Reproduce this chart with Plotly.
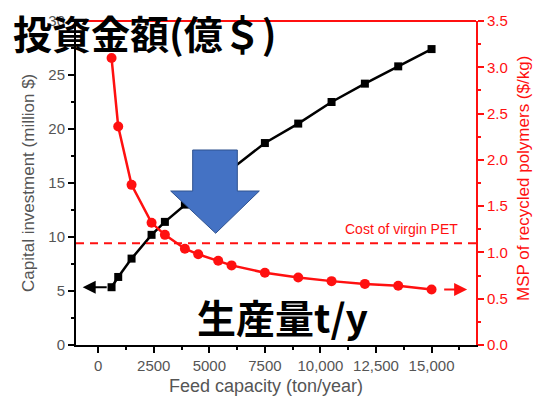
import plotly.graph_objects as go

feed_capacity = [600, 900, 1500, 2400, 3000, 3900, 4500, 5400, 6000, 7500, 9000, 10500, 12000, 13500, 15000]
capital_investment = [5.35, 6.3, 8.0, 10.2, 11.4, 13.0, 14.0, 15.4, 16.3, 18.7, 20.5, 22.5, 24.2, 25.8, 27.4]
msp = [3.10, 2.36, 1.73, 1.32, 1.19, 1.04, 0.98, 0.91, 0.86, 0.78, 0.73, 0.69, 0.66, 0.64, 0.60]
virgin_pet_cost = 1.1

x_tickvals = [0, 2500, 5000, 7500, 10000, 12500, 15000]
x_ticktext = ["0", "2500", "5000", "7500", "10,000", "12,500", "15,000"]
y_tickvals = [0, 5, 10, 15, 20, 25, 30]
y2_tickvals = [0.0, 0.5, 1.0, 1.5, 2.0, 2.5, 3.0, 3.5]
y2_ticktext = ["0.0", "0.5", "1.0", "1.5", "2.0", "2.5", "3.0", "3.5"]

GRAY = "#555555"
RED = "#ff1010"
FONT = "Liberation Sans, Arial, sans-serif"
CJK = "Noto Sans CJK JP"

# plot area in pixels
L, R, T, B = 76, 476, 21, 345
W, H = 535, 396

fig = go.Figure()
fig.add_trace(go.Scatter(
    x=feed_capacity, y=capital_investment, mode="lines+markers",
    line=dict(color="black", width=2.5),
    marker=dict(symbol="square", size=8, color="black"),
    yaxis="y", showlegend=False, hoverinfo="skip"))
fig.add_trace(go.Scatter(
    x=feed_capacity, y=msp, mode="lines+markers",
    line=dict(color=RED, width=2.5),
    marker=dict(symbol="circle", size=10, color=RED),
    yaxis="y2", showlegend=False, hoverinfo="skip"))

fig.update_layout(
    width=W, height=H,
    margin=dict(l=L, r=W - R, t=T, b=H - B),
    paper_bgcolor="white", plot_bgcolor="white",
    font=dict(family=FONT, color=GRAY),
    xaxis=dict(
        range=[-1000, 17000], tickvals=x_tickvals, ticktext=x_ticktext, automargin=False,
        showgrid=False, zeroline=False, showline=True, linecolor="black", linewidth=2,
        ticks="outside", ticklen=6, tickwidth=1.5, tickcolor="black",
        tickfont=dict(size=15, color=GRAY, family=FONT),
        minor=dict(ticks="outside", ticklen=3, dtick=1250, tick0=0, tickcolor="black", tickwidth=1.5),
    ),
    yaxis=dict(
        range=[0, 30], tickvals=y_tickvals, automargin=False,
        showgrid=False, zeroline=False, showline=True, linecolor="black", linewidth=2,
        ticks="outside", ticklen=6, tickwidth=1.5, tickcolor="black",
        tickfont=dict(size=15, color=GRAY, family=FONT),
        minor=dict(ticks="outside", ticklen=3, dtick=2.5, tick0=0, tickcolor="black", tickwidth=1.5),
    ),
    yaxis2=dict(
        range=[0, 3.5], tickvals=y2_tickvals, ticktext=y2_ticktext, automargin=False,
        overlaying="y", side="right",
        showgrid=False, zeroline=False, showline=True, linecolor=RED, linewidth=2,
        ticks="outside", ticklen=6, tickwidth=1.5, tickcolor=RED,
        tickfont=dict(size=15, color=RED, family=FONT),
        minor=dict(ticks="outside", ticklen=3, dtick=0.25, tick0=0, tickcolor=RED, tickwidth=1.5),
    ),
)

px = lambda X: (X - L) / (R - L)
py = lambda Y: (B - Y) / (B - T)

# axis titles
fig.add_annotation(text="Feed capacity (ton/year)", xref="paper", yref="paper",
                   x=px(266), y=py(386), xanchor="center", yanchor="middle", showarrow=False,
                   font=dict(size=18, color=GRAY, family=FONT))
fig.add_annotation(text="Capital investment (million $)", xref="paper", yref="paper",
                   x=px(28), y=py(183), xanchor="center", yanchor="middle", showarrow=False,
                   textangle=-90, font=dict(size=17, color=GRAY, family=FONT))
fig.add_annotation(text="MSP of recycled polymers ($/kg)", xref="paper", yref="paper",
                   x=px(524), y=py(179), xanchor="center", yanchor="middle", showarrow=False,
                   textangle=-90, font=dict(size=17, color=RED, family=FONT))

# top frame line (red)
fig.add_shape(type="line", xref="paper", yref="paper", x0=0, x1=1, y0=1, y1=1,
              line=dict(color=RED, width=2))
# virgin PET reference line
fig.add_shape(type="line", xref="paper", yref="y2", x0=0, x1=1, y0=virgin_pet_cost, y1=virgin_pet_cost,
              line=dict(color=RED, width=2, dash="8px,6px"))
fig.add_annotation(text="Cost of virgin PET", xref="paper", yref="paper", x=px(460), y=py(229),
                   xanchor="right", yanchor="middle", showarrow=False,
                   font=dict(size=14, color=RED, family=FONT))

# axis-direction arrows
fig.add_annotation(x=-700, y=capital_investment[0], ax=450, ay=capital_investment[0],
                   xref="x", yref="y", axref="x", ayref="y", text="", showarrow=True,
                   arrowhead=2, arrowsize=1.3, arrowwidth=2, arrowcolor="black")
fig.add_annotation(x=16600, y=msp[-1], ax=15500, ay=msp[-1],
                   xref="x", yref="y2", axref="x", ayref="y2", text="", showarrow=True,
                   arrowhead=2, arrowsize=1.3, arrowwidth=2, arrowcolor=RED)

# blue block arrow (decoration)
pts = [(192.7, 150), (237.3, 150), (237.3, 191), (259.3, 191), (215.7, 233.3),
       (170.7, 191), (192.7, 191)]
path = "M " + " L ".join(f"{px(a):.4f},{py(b):.4f}" for a, b in pts) + " Z"
fig.add_shape(type="path", xref="paper", yref="paper", path=path,
              fillcolor="#4472C4", line=dict(color="#2F528F", width=1))

# overlay Japanese labels
fig.add_annotation(text="<b>投資金額(億＄)</b>", xref="paper", yref="paper",
                   x=px(11), y=py(31.5), xanchor="left", yanchor="middle", showarrow=False,
                   font=dict(size=39, color="black", family=CJK))
fig.add_annotation(text="<b>生産量t/y</b>", xref="paper", yref="paper",
                   x=px(282.5), y=py(316), xanchor="center", yanchor="middle", showarrow=False,
                   font=dict(size=39, color="black", family=CJK))

fig.write_html("out.html", config={"displayModeBar": False},
               post_script="document.body.style.margin='0';document.body.style.overflow='hidden';")
